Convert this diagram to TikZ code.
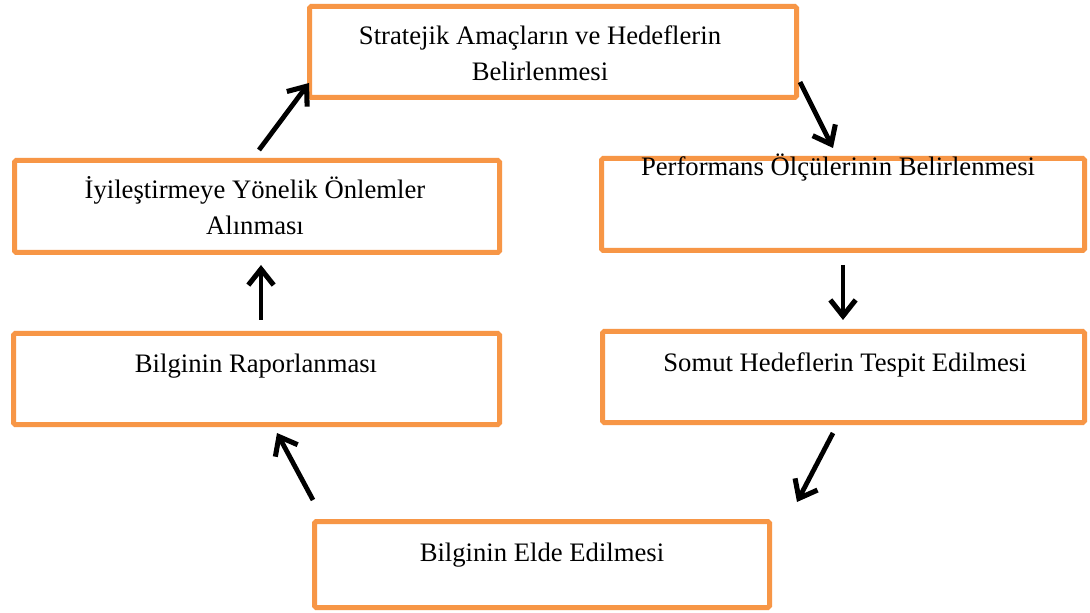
\documentclass[tikz,border=0pt]{standalone}
\usepackage{fontspec}
\setmainfont{Liberation Serif}
\usetikzlibrary{arrows.meta}
\definecolor{boxorange}{HTML}{F79646}
\begin{document}
\begin{tikzpicture}[x=0.75pt,y=-0.75pt,
  box/.style={draw=boxorange, line width=3.75pt, rounded corners=1.2pt, inner sep=0pt, fill=white},
  label/.style={anchor=base, inner sep=0pt, font=\fontsize{20}{24}\selectfont},
  flow/.style={line width=3.6pt, -{Straight Barb[length=12pt,width=19pt,line width=3.8pt]}}]
\useasboundingbox (0,0) rectangle (1090,613);
\fill[white] (0,0) rectangle (1090,613);

% process boxes
\node[box, minimum width=365.25pt, minimum height=68.25pt] (goals)   at (553,52)    {};
\node[box, minimum width=363.75pt, minimum height=69pt]    (improve) at (257,206.5) {};
\node[box, minimum width=362.25pt, minimum height=69pt]    (measure) at (843,204.5) {};
\node[box, minimum width=364.5pt,  minimum height=68.25pt] (report)  at (256.5,379) {};
\node[box, minimum width=361.5pt,  minimum height=68.25pt] (targets) at (843.5,377) {};
\node[box, minimum width=341.25pt, minimum height=64.5pt]  (gather)  at (542,564.5) {};

% box texts
\node[label] (goalsA)   at (540,45)  {Stratejik Amaçların ve Hedeflerin};
\node[label] (goalsB)   at (540,81)  {Belirlenmesi};
\node[label] (improveA) at (255,199) {İyileştirmeye Yönelik Önlemler};
\node[label] (improveB) at (255,235) {Alınması};
\node[label] (measureA) at (838,176) {Performans Ölçülerinin Belirlenmesi};
\node[label] (reportA)  at (256,373) {Bilginin Raporlanması};
\node[label] (targetsA) at (845,371) {Somut Hedeflerin Tespit Edilmesi};
\node[label] (gatherA)  at (542,561) {Bilginin Elde Edilmesi};

% arrow end points between the boxes
\coordinate (g1) at (800,82);  \coordinate (m1) at (833,148);
\coordinate (m2) at (843,265); \coordinate (t1) at (843,320);
\coordinate (t2) at (833,433); \coordinate (e1) at (797,502);
\coordinate (e2) at (313,500); \coordinate (r1) at (277,433);
\coordinate (r2) at (261,320); \coordinate (i1) at (261,265);
\coordinate (i2) at (259,150); \coordinate (g2) at (309,83);

% cycle arrows
\draw[flow] (g1) -- (m1);
\draw[flow] (m2) -- (t1);
\draw[flow] (t2) -- (e1);
\draw[flow] (e2) -- (r1);
\draw[flow] (r2) -- (i1);
\draw[flow] (i2) -- (g2);
\end{tikzpicture}
\end{document}
